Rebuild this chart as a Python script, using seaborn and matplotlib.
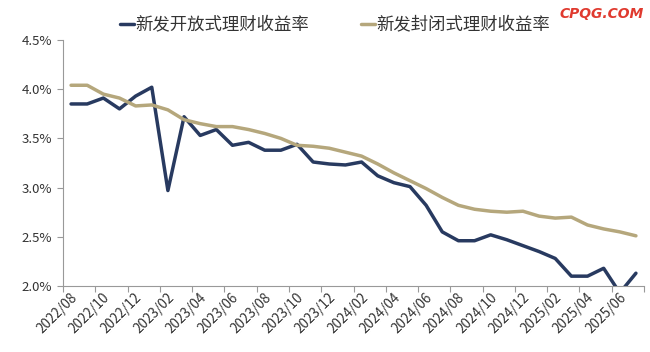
import matplotlib
matplotlib.use("Agg")
import matplotlib.pyplot as plt
import seaborn as sns
import pandas as pd
import numpy as np
from matplotlib.ticker import FixedLocator, FuncFormatter

months = [
    "2022/08", "2022/09", "2022/10", "2022/11", "2022/12",
    "2023/01", "2023/02", "2023/03", "2023/04", "2023/05", "2023/06",
    "2023/07", "2023/08", "2023/09", "2023/10", "2023/11", "2023/12",
    "2024/01", "2024/02", "2024/03", "2024/04", "2024/05", "2024/06",
    "2024/07", "2024/08", "2024/09", "2024/10", "2024/11", "2024/12",
    "2025/01", "2025/02", "2025/03", "2025/04", "2025/05", "2025/06",
    "2025/07",
]
open_yield = [
    3.85, 3.85, 3.91, 3.80, 3.93, 4.02, 2.97, 3.72, 3.53, 3.59, 3.43,
    3.46, 3.38, 3.38, 3.44, 3.26, 3.24, 3.23, 3.26, 3.12, 3.05, 3.01,
    2.82, 2.55, 2.46, 2.46, 2.52, 2.47, 2.41, 2.35, 2.28, 2.10, 2.10,
    2.18, 1.93, 2.13,
]
closed_yield = [
    4.04, 4.04, 3.95, 3.91, 3.83, 3.84, 3.79, 3.69, 3.65, 3.62, 3.62,
    3.59, 3.55, 3.50, 3.43, 3.42, 3.40, 3.36, 3.32, 3.24, 3.15, 3.07,
    2.99, 2.90, 2.82, 2.78, 2.76, 2.75, 2.76, 2.71, 2.69, 2.70, 2.62,
    2.58, 2.55, 2.51,
]
series_names = ["新发开放式理财收益率", "新发封闭式理财收益率"]
tick_labels = months[::2]
y_ticks = [2.0, 2.5, 3.0, 3.5, 4.0, 4.5]

sns.set_theme(style="white")
plt.rcParams["font.family"] = ["Noto Sans CJK SC", "DejaVu Sans"]

df = pd.DataFrame({
    "idx": list(range(len(months))) * 2,
    "value": open_yield + closed_yield,
    "series": [series_names[0]] * len(months) + [series_names[1]] * len(months),
})

fig = plt.figure(figsize=(6.5, 3.52), dpi=100)
ax = fig.add_axes([63 / 650, 1 - 286 / 352, (644 - 63) / 650, (286 - 40) / 352])

palette = {series_names[0]: "#283a60", series_names[1]: "#b5a77c"}
sns.lineplot(data=df, x="idx", y="value", hue="series", palette=palette,
             linewidth=2.5, ax=ax, legend=True)

ax.set_xlim(-0.5, len(months) - 0.5)
ax.set_ylim(2.0, 4.5)
ax.set_xlabel("")
ax.set_ylabel("")

# y axis
ax.yaxis.set_major_locator(FixedLocator(y_ticks))
ax.yaxis.set_major_formatter(FuncFormatter(lambda v, p: f"{v:.1f}%"))
ax.tick_params(axis="y", which="major", left=True, length=4, width=0.8,
               color="#999999", labelsize=9.5, labelcolor="#333333", pad=4)

# x axis: labels in 2-month intervals, tick marks at interval edges
label_pos = [i + 0.25 for i in range(0, len(months), 2)]
ax.xaxis.set_major_locator(FixedLocator(label_pos))
ax.set_xticklabels(tick_labels)
ax.xaxis.set_minor_locator(FixedLocator([i - 0.5 for i in range(0, len(months) + 1, 2)]))
ax.tick_params(axis="x", which="major", bottom=False, length=0, labelsize=9.8,
               labelcolor="#333333", pad=7)
ax.tick_params(axis="x", which="minor", bottom=True, length=4, width=0.8, color="#999999")
for lab in ax.get_xticklabels():
    lab.set_rotation(45)
    lab.set_ha("right")
    lab.set_va("center")
    lab.set_rotation_mode("anchor")

for s in ["top", "right"]:
    ax.spines[s].set_visible(False)
for s in ["left", "bottom"]:
    ax.spines[s].set_color("#999999")
    ax.spines[s].set_linewidth(0.8)

handles, labels = ax.get_legend_handles_labels()
ax.legend(handles, labels, loc="upper left", bbox_to_anchor=(104 / 650, 1.0),
          bbox_transform=fig.transFigure, ncol=2, frameon=False,
          fontsize=12.5, handlelength=0.8, handletextpad=0.1,
          columnspacing=3.0, labelcolor="#333333")

fig.text(559 / 650, 1 - 14 / 352, "CPQG.COM", color="#e03a2f", fontsize=10,
         fontweight="bold", fontstyle="italic", va="center", ha="left",
         family=["DejaVu Sans"])

fig.savefig("out.png", dpi=100)
